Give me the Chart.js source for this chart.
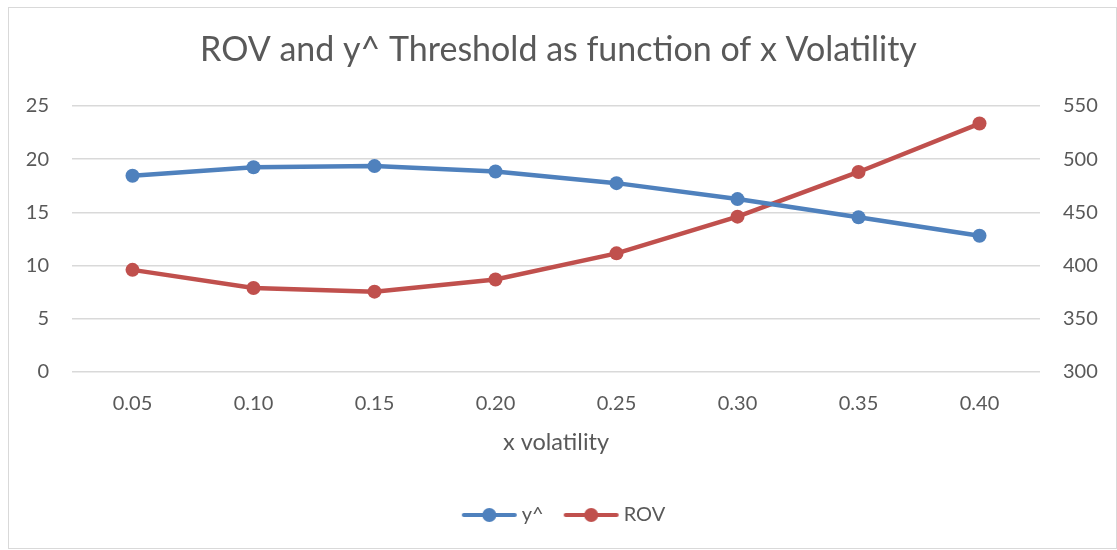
<!DOCTYPE html>
<html>
<head>
<meta charset="utf-8">
<script src="https://cdn.jsdelivr.net/npm/chart.js@4/dist/chart.umd.min.js"></script>
<style>
html,body{margin:0;padding:0;background:#fff;}
#wrap{position:absolute;left:0;top:0;width:1117px;height:550px;}
#frame{position:absolute;left:8px;top:7px;width:1107px;height:540px;border:1px solid #d9d9d9;}
canvas{position:absolute;left:0;top:0;}
</style>
</head>
<body>
<div id="wrap">
<div id="frame"></div>
<canvas id="c" width="1117" height="550"></canvas>
</div>
<script>
const categories = ['0.05','0.10','0.15','0.20','0.25','0.30','0.35','0.40'];
const yHat = [18.45, 19.25, 19.35, 18.85, 17.75, 16.25, 14.55, 12.8];
const rov = [396, 379, 375.5, 387, 411.5, 446, 488, 533.5];
const leftTicks = [0, 5, 10, 15, 20, 25];
const rightTicks = [300, 350, 400, 450, 500, 550];

const BLUE = '#4F81BD', RED = '#C0504D', TXT = '#595959', GRID = '#d9d9d9';
const FONT = 'Lato, Carlito, "Open Sans", sans-serif';

function legendIcon(color) {
  const W = 74, H = 16;
  const c = document.createElement('canvas');
  c.width = W; c.height = H;
  const g = c.getContext('2d');
  g.strokeStyle = color; g.lineWidth = 4; g.lineCap = 'round';
  g.beginPath(); g.moveTo(W - 55, H/2); g.lineTo(W - 4, H/2); g.stroke();
  g.fillStyle = color;
  g.beginPath(); g.arc(W - 29.5, H/2, 7, 0, Math.PI*2); g.fill();
  return c;
}
const icons = [legendIcon(BLUE), legendIcon(RED)];

new Chart(document.getElementById('c'), {
  type: 'line',
  data: {
    labels: categories,
    datasets: [
      {label: 'y^', data: yHat, yAxisID: 'y', borderColor: BLUE, backgroundColor: BLUE,
       borderWidth: 4.5, pointRadius: 7, pointBorderWidth: 0, pointBackgroundColor: BLUE, tension: 0},
      {label: 'ROV', data: rov, yAxisID: 'y2', borderColor: RED, backgroundColor: RED,
       borderWidth: 4.5, pointRadius: 7, pointBorderWidth: 0, pointBackgroundColor: RED, tension: 0}
    ]
  },
  options: {
    responsive: false,
    animation: false,
    layout: {padding: {left: 0, right: 0, top: 0, bottom: 15}},
    plugins: {
      title: {display: true, text: 'ROV and y^ Threshold as function of x Volatility',
        color: TXT, font: {family: FONT, size: 34, weight: 'normal'}, padding: {top: 30, bottom: 35.2}},
      legend: {position: 'bottom',
        labels: {color: TXT, font: {family: FONT, size: 20}, usePointStyle: true, pointStyleWidth: 60, padding: 10,
          generateLabels(chart) {
            return chart.data.datasets.map((d, i) => ({text: d.label, fillStyle: d.borderColor, strokeStyle: d.borderColor,
              lineWidth: 0, pointStyle: icons[i], datasetIndex: i, fontColor: TXT, hidden: false}));
          }}},
      tooltip: {enabled: false}
    },
    scales: {
      x: {
        offset: true,
        grid: {display: false, drawTicks: false},
        border: {display: false},
        ticks: {color: TXT, font: {family: FONT, size: 20}, padding: 20},
        title: {display: true, text: 'x volatility', color: TXT, font: {family: FONT, size: 23.5}, padding: {top: 0, bottom: 38}},
        afterFit(s) { s.height = 123; }
      },
      y: {
        position: 'left', min: 0, max: 25,
        grid: {color: GRID, lineWidth: 1.5, drawTicks: false},
        border: {display: false},
        afterBuildTicks(s) { s.ticks = leftTicks.map(v => ({value: v})); },
        ticks: {color: TXT, font: {family: FONT, size: 20}, padding: 23},
        afterFit(s) { s.width = 72; }
      },
      y2: {
        position: 'right', min: 300, max: 550,
        grid: {display: false, drawTicks: false},
        border: {display: false},
        afterBuildTicks(s) { s.ticks = rightTicks.map(v => ({value: v})); },
        ticks: {color: TXT, font: {family: FONT, size: 20}, padding: 23},
        afterFit(s) { s.width = 77; }
      }
    }
  }
});
</script>
</body>
</html>
